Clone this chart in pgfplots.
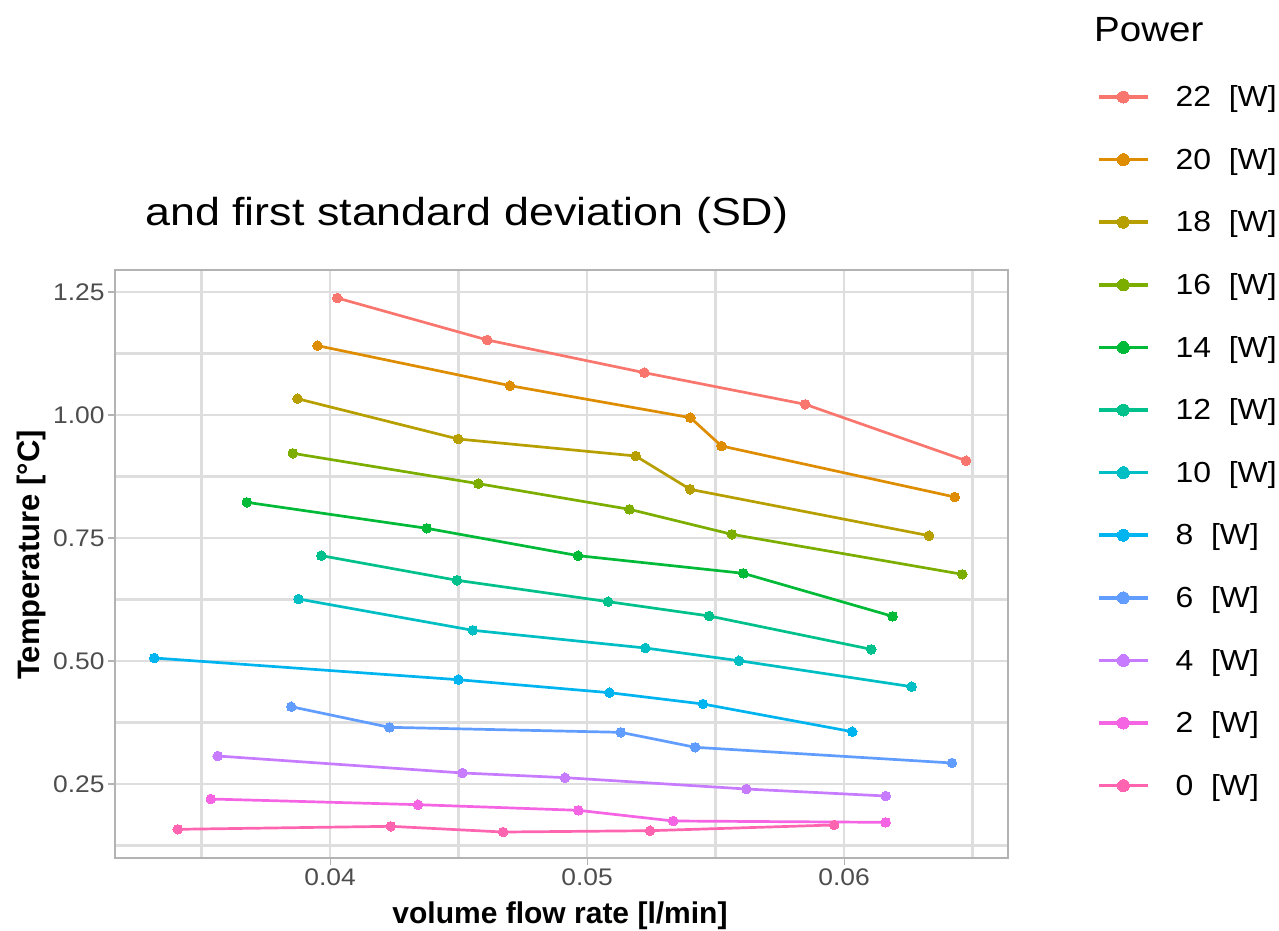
\documentclass[border=0pt]{standalone}
\usepackage{fontspec}
\setmainfont{Liberation Sans}[FakeStretch=1.1]
\newfontfamily\plainsans{Liberation Sans}
\newfontfamily\titlefont{Liberation Sans}[FakeStretch=1.15]
\usepackage{pgfplots}
\pgfplotsset{compat=1.18}
\definecolor{c22}{HTML}{F8766D}
\definecolor{c20}{HTML}{DE8C00}
\definecolor{c18}{HTML}{B79F00}
\definecolor{c16}{HTML}{7CAE00}
\definecolor{c14}{HTML}{00BA38}
\definecolor{c12}{HTML}{00C08B}
\definecolor{c10}{HTML}{00BFC4}
\definecolor{c8}{HTML}{00B4F0}
\definecolor{c6}{HTML}{619CFF}
\definecolor{c4}{HTML}{C77CFF}
\definecolor{c2}{HTML}{F564E3}
\definecolor{c0}{HTML}{FF64B0}
\definecolor{grey70}{HTML}{B3B3B3}
\definecolor{grey87}{HTML}{DEDEDE}
\definecolor{grey30}{HTML}{4D4D4D}
\pgfplotsset{
  ser/.style={#1, line width=2.7pt, mark=*, mark size=4.8pt,
    mark options={solid, fill=#1, draw=#1, line width=0pt}},
}
\begin{document}
\begin{tikzpicture}[x=1pt,y=1pt]
\path[use as bounding box] (0,0) rectangle (1279,931);
\begin{axis}[
  at={(115pt,73pt)}, anchor=south west, scale only axis,
  width=893pt, height=588pt,
  xmin=0.03163, xmax=0.06638, ymin=0.0996, ymax=1.2947,
  scaled x ticks=false, scaled y ticks=false,
  xtick={0.04,0.05,0.06}, xticklabels={0.04,0.05,0.06},
  minor xtick={0.035,0.045,0.055,0.065},
  ytick={0.25,0.5,0.75,1.0,1.25}, yticklabels={0.25,0.50,0.75,1.00,1.25},
  minor ytick={0.125,0.375,0.625,0.875,1.125},
  grid=both,
  major grid style={draw=grey87, line width=1.3pt},
  minor grid style={draw=grey87, line width=2.6pt},
  tick align=outside, tick pos=left,
  major tick length=7pt, minor tick length=0pt,
  tick style={draw=grey70, line width=1.1pt},
  axis line style={draw=grey70, line width=1.2pt},
  /pgf/number format/assume math mode=true,
  ticklabel style={font=\fontsize{24}{24}\selectfont, text=grey30},
  xlabel={volume flow rate [l/min]},
  ylabel={Temperature [°C]},
  xlabel style={at={(axis description cs:0.4983,-0.1122)}, anchor=base,
    font=\fontsize{30}{30}\plainsans\bfseries\selectfont},
  ylabel style={at={(axis description cs:-0.0840,0.5153)}, anchor=base,
    font=\fontsize{31}{31}\plainsans\bfseries\selectfont},
  legend cell align=left,
  legend style={at={(axis description cs:1.0997,1.3474)}, anchor=north west,
    draw=none, fill=none, inner sep=0pt, outer sep=0pt,
    column sep=26pt, row sep=0pt,
    nodes={inner sep=0pt, minimum height=62.6pt,
      font=\fontsize{29}{29}\selectfont, text=black}},
  legend image code/.code={\draw[mark repeat=2,mark phase=2,#1]
    plot coordinates {(0pt,0pt) (24.5pt,0pt) (49pt,0pt)};},
  legend image post style={line width=3.6pt, mark size=6pt},
]
\addplot[ser=c22] coordinates {(0.04028,1.2378) (0.04612,1.1524) (0.05223,1.0860) (0.05849,1.0217) (0.06475,0.9071)};
\addlegendentry{22\ \ [W]}
\addplot[ser=c20] coordinates {(0.03951,1.1409) (0.04700,1.0596) (0.05402,0.9946) (0.05523,0.9370) (0.06431,0.8333)};
\addlegendentry{20\ \ [W]}
\addplot[ser=c18] coordinates {(0.03873,1.0331) (0.04498,0.9512) (0.05189,0.9167) (0.05401,0.8489) (0.06331,0.7547)};
\addlegendentry{18\ \ [W]}
\addplot[ser=c16] coordinates {(0.03855,0.9221) (0.04577,0.8604) (0.05165,0.8083) (0.05563,0.7575) (0.06460,0.6762)};
\addlegendentry{16\ \ [W]}
\addplot[ser=c14] coordinates {(0.03676,0.8225) (0.04376,0.7697) (0.04965,0.7141) (0.05608,0.6782) (0.06189,0.5908)};
\addlegendentry{14\ \ [W]}
\addplot[ser=c12] coordinates {(0.03966,0.7141) (0.04494,0.6640) (0.05082,0.6206) (0.05475,0.5915) (0.06106,0.5237)};
\addlegendentry{12\ \ [W]}
\addplot[ser=c10] coordinates {(0.03877,0.6260) (0.04555,0.5624) (0.05227,0.5264) (0.05591,0.5006) (0.06263,0.4478)};
\addlegendentry{10\ \ [W]}
\addplot[ser=c8] coordinates {(0.03316,0.5061) (0.04499,0.4620) (0.05087,0.4356) (0.05451,0.4126) (0.06032,0.3563)};
\addlegendentry{8\ \ [W]}
\addplot[ser=c6] coordinates {(0.03849,0.4071) (0.04231,0.3652) (0.05131,0.3550) (0.05421,0.3246) (0.06420,0.2927)};
\addlegendentry{6\ \ [W]}
\addplot[ser=c4] coordinates {(0.03563,0.3069) (0.04515,0.2724) (0.04914,0.2629) (0.05620,0.2398) (0.06162,0.2256)};
\addlegendentry{4\ \ [W]}
\addplot[ser=c2] coordinates {(0.03536,0.2195) (0.04342,0.2080) (0.04966,0.1965) (0.05335,0.1748) (0.06162,0.1721)};
\addlegendentry{2\ \ [W]}
\addplot[ser=c0] coordinates {(0.03407,0.1579) (0.04236,0.1640) (0.04673,0.1524) (0.05245,0.1551) (0.05961,0.1667)};
\addlegendentry{0\ \ [W]}
\end{axis}
\node[anchor=base west, inner sep=0pt, font=\fontsize{39}{39}\titlefont\selectfont] at (145,705) {and first standard deviation (SD)};
\node[anchor=base west, inner sep=0pt, font=\fontsize{35}{35}\selectfont] at (1094,889) {Power};
\end{tikzpicture}
\end{document}
